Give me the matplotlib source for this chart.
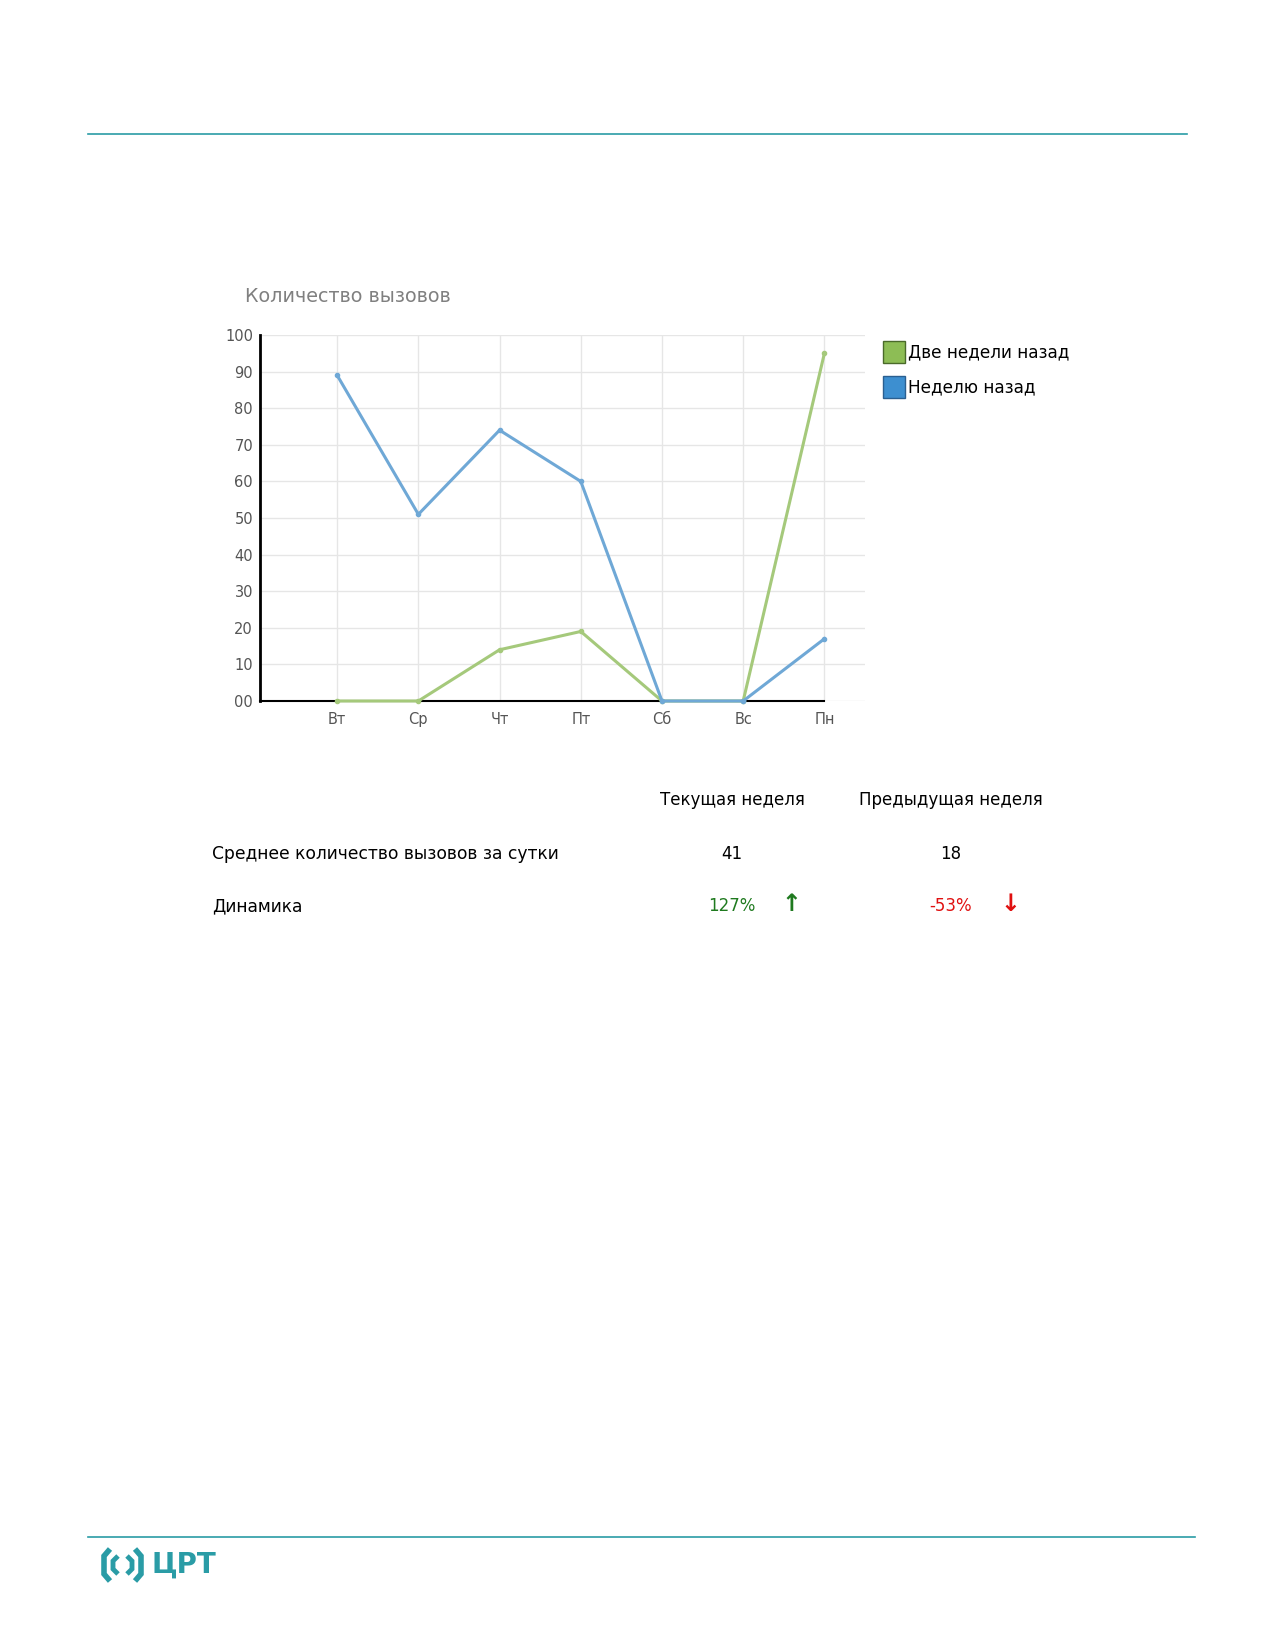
import matplotlib
matplotlib.use("Agg")
import matplotlib.pyplot as plt
from matplotlib.patches import Rectangle
from matplotlib.lines import Line2D

# ── data ──────────────────────────────────────────────────────────────────────
DAYS = ["Вт", "Ср", "Чт", "Пт", "Сб", "Вс", "Пн"]
WEEK_AGO = [89, 51, 74, 60, 0, 0, 17]       # Неделю назад
TWO_WEEKS_AGO = [0, 0, 14, 19, 0, 0, 95]    # Две недели назад
Y_TICKS = [0, 10, 20, 30, 40, 50, 60, 70, 80, 90, 100]
Y_LABELS = ["00", "10", "20", "30", "40", "50", "60", "70", "80", "90", "100"]

TABLE_COLS = ["Текущая неделя", "Предыдущая неделя"]
AVG_CALLS = ["41", "18"]
DYNAMICS = ["127%", "-53%"]
ARROWS = ["↑", "↓"]

BLUE = "#6fa8d6"
GREEN = "#a5c97b"
TEAL = "#2a9ca6"
W, H = 1275, 1650

fig = plt.figure(figsize=(W / 100, H / 100), dpi=100)
plt.rcParams["font.family"] = ["DejaVu Sans"]


def fx(px):
    return px / W


def fy(py):
    return 1 - py / H


# header / footer rules
fig.add_artist(Line2D([fx(88), fx(1187)], [fy(134), fy(134)], color=TEAL, lw=1.2))
fig.add_artist(Line2D([fx(88), fx(1195)], [fy(1537), fy(1537)], color=TEAL, lw=1.2))

# ── chart ─────────────────────────────────────────────────────────────────────
ax = fig.add_axes([fx(260), fy(701), fx(865) - fx(260), (701 - 335) / H])
x = list(range(len(DAYS)))
ax.plot(x, TWO_WEEKS_AGO, color=GREEN, lw=2.2, marker="o", ms=3, clip_on=False, zorder=3)
ax.plot(x, WEEK_AGO, color=BLUE, lw=2.2, marker="o", ms=3, clip_on=False, zorder=4)

ax.set_xlim(-0.95, 6.5)
ax.set_ylim(0, 100)
ax.set_xticks(x)
ax.set_xticklabels(DAYS)
ax.set_yticks(Y_TICKS)
ax.set_yticklabels(Y_LABELS)
ax.tick_params(length=0, labelsize=10.5, colors="#555555")
ax.tick_params(axis="x", pad=8)
ax.tick_params(axis="y", pad=5)
ax.grid(True, color="#e6e6e6", lw=1)
ax.set_axisbelow(True)
for s in ["top", "right"]:
    ax.spines[s].set_visible(False)
ax.spines["left"].set_color("black")
ax.spines["left"].set_linewidth(2)
ax.spines["bottom"].set_color("black")
ax.spines["bottom"].set_linewidth(1.5)
ax.spines["bottom"].set_bounds(-0.95, 6)

fig.text(fx(245), fy(297), "Количество вызовов", fontsize=13.8, color="#808080",
         va="center", ha="left")

# legend
for i, (lab, fc, ec) in enumerate([("Две недели назад", "#8dbd55", "#4a6a2a"),
                                   ("Неделю назад", "#3d8fd0", "#2a5f90")]):
    yc = 352 + i * 35
    fig.add_artist(Rectangle((fx(883), fy(yc + 11)), fx(22), 22 / H,
                             facecolor=fc, edgecolor=ec, lw=1))
    fig.text(fx(908), fy(yc), lab, fontsize=12.2, color="black", va="center", ha="left")

# ── table ─────────────────────────────────────────────────────────────────────
col_x = [732, 951]
for cx, lab in zip(col_x, TABLE_COLS):
    fig.text(fx(cx), fy(800), lab, fontsize=12, ha="center", va="center")
fig.text(fx(212), fy(854), "Среднее количество вызовов за сутки", fontsize=12.3,
         ha="left", va="center")
for cx, v in zip(col_x, AVG_CALLS):
    fig.text(fx(cx), fy(854), v, fontsize=12, ha="center", va="center")
fig.text(fx(212), fy(906), "Динамика", fontsize=12.3, ha="left", va="center")
for cx, v, arr, c in zip(col_x, DYNAMICS, ARROWS, ["#1f7a1f", "#e01010"]):
    fig.text(fx(cx), fy(906), v, fontsize=12, ha="center", va="center", color=c)
    fig.text(fx(cx + 59), fy(904), arr, fontsize=17, ha="center", va="center",
             color=c, fontweight="bold")

# ── logo ──────────────────────────────────────────────────────────────────────
def bracket(xs, ys, lw=4):
    fig.add_artist(Line2D([fx(v) for v in xs], [fy(v) for v in ys], color=TEAL,
                          lw=lw, solid_capstyle="butt", solid_joinstyle="miter"))


bracket([110, 104, 104, 110], [1549, 1556, 1574, 1581])
bracket([118, 113, 113, 118], [1556, 1561, 1569, 1574], lw=3.5)
bracket([135, 141, 141, 135], [1549, 1556, 1574, 1581])
bracket([127, 132, 132, 127], [1556, 1561, 1569, 1574], lw=3.5)
fig.text(fx(151), fy(1565), "ЦРТ", fontsize=20, fontweight="bold", color=TEAL,
         ha="left", va="center", family="Liberation Sans Narrow")

fig.savefig("out.png", dpi=100, facecolor="white")
